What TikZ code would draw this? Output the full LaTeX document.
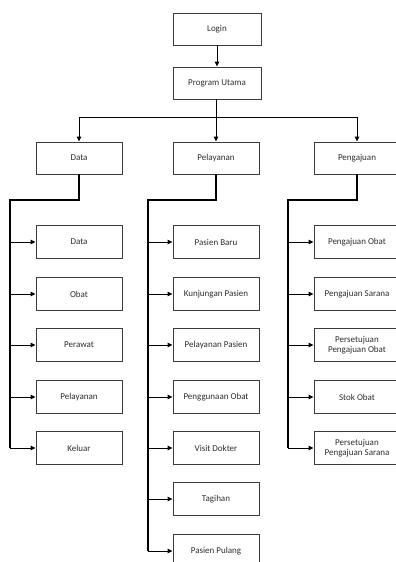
\documentclass[tikz,border=0pt]{standalone}
\usepackage{fontspec}
\setmainfont{Carlito}
\usetikzlibrary{arrows.meta}
\definecolor{boxline}{HTML}{3A3A3A}
\definecolor{txt}{HTML}{2E2E2E}
\tikzset{
  box/.style={draw=boxline, line width=0.9pt, minimum width=86pt, minimum height=32pt,
    inner sep=1pt, align=center, text=txt, font=\fontsize{9}{10.5}\selectfont},
  trunk/.style={draw=black, line width=1.4pt},
  link/.style={draw=black, line width=0.9pt},
  arr/.style={link, -{Triangle[length=5pt,width=4.5pt]}}
}
\begin{document}
\begin{tikzpicture}[x=1pt,y=-1pt]
\useasboundingbox (0,0) rectangle (396,562);
\clip (0,0) rectangle (396,562);
% top
\node[box, minimum width=88pt] (login) at (217,29) {Login};
\node[box, minimum width=88pt] (pu) at (217,83) {Program Utama};
\node[box] (data) at (79,158) {Data};
\node[box] (pel) at (216,158) {Pelayanan};
\node[box] (peng) at (357,158) {Pengajuan};
\draw[arr] (login) -- (pu);
\coordinate (barL) at (79,117);
\coordinate (barR) at (357,117);
\draw[link] (barL) -- (barR);
\draw[arr] (barL) -- (data.north);
\draw[arr] (pu.south -| pel.north) -- (pel.north);
\draw[arr] (barR) -- (peng.north);
% Data children
\node[box, minimum height=33pt] (d1) at (79,242) {Data};
\node[box, minimum height=33pt] (d2) at (79,294) {Obat};
\node[box, minimum height=33pt] (d3) at (79,345) {Perawat};
\node[box, minimum height=33pt] (d4) at (79,397) {Pelayanan};
\node[box, minimum height=33pt] (d5) at (79,448) {Keluar};
% Pelayanan children
\node[box, minimum height=33pt] (p1) at (216,242) {Pasien Baru};
\node[box, minimum height=33pt] (p2) at (216,294) {Kunjungan Pasien};
\node[box, minimum height=33pt] (p3) at (216,345) {Pelayanan Pasien};
\node[box, minimum height=33pt] (p4) at (216,397) {Penggunaan Obat};
\node[box, minimum height=33pt] (p5) at (216,448) {Visit Dokter};
\node[box, minimum height=33pt] (p6) at (216,499) {Tagihan};
\node[box, minimum height=33pt] (p7) at (216,551) {Pasien Pulang};
% Pengajuan children
\node[box, minimum height=33pt] (g1) at (357,242) {Pengajuan Obat};
\node[box, minimum height=33pt] (g2) at (357,294) {Pengajuan Sarana};
\node[box, minimum height=33pt] (g3) at (357,345) {Persetujuan\\Pengajuan Obat};
\node[box, minimum height=33pt] (g4) at (357,397) {Stok Obat};
\node[box, minimum height=33pt] (g5) at (357,448) {Persetujuan\\Pengajuan Sarana};
% trunks
\coordinate (jL) at (10,200);
\coordinate (jM) at (148,200);
\coordinate (jR) at (288,200);
\draw[trunk] (data.south) |- (jL) -- (jL |- d5.west);
\draw[trunk] (pel.south) |- (jM) -- (jM |- p7.west);
\draw[trunk] (peng.south) |- (jR) -- (jR |- g5.west);
\foreach \n in {d1,d2,d3,d4,d5} \draw[arr] (jL |- \n.west) -- (\n.west);
\foreach \n in {p1,p2,p3,p4,p5,p6,p7} \draw[arr] (jM |- \n.west) -- (\n.west);
\foreach \n in {g1,g2,g3,g4,g5} \draw[arr] (jR |- \n.west) -- (\n.west);
\end{tikzpicture}
\end{document}
